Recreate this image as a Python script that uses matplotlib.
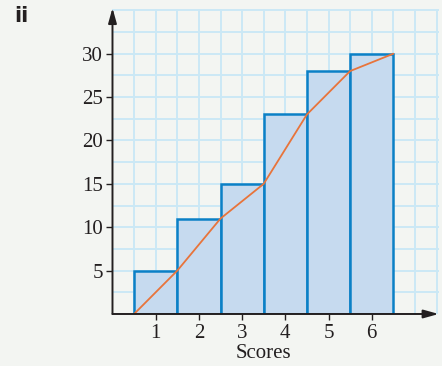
import matplotlib
matplotlib.use("Agg")
import matplotlib.pyplot as plt
import numpy as np

# Cumulative frequency by score
scores = [1, 2, 3, 4, 5, 6]
cum_freq = [5, 11, 15, 23, 28, 30]
y_ticks = [5, 10, 15, 20, 25, 30]
x_label = "Scores"
part_label = "ii"

bg = "#f3f5f2"
grid_col = "#cbe8f6"
bar_fill = "#c6daef"
bar_edge = "#0b80c6"
line_col = "#e8743b"
axis_col = "#231f20"

fig = plt.figure(figsize=(4.42, 3.66), dpi=100, facecolor=bg)
ax = fig.add_axes([0.2545, 0.1421, 0.738, 0.832], facecolor=bg)
x_max = 7.55
ax.set_xlim(0, x_max)
ax.set_ylim(0, 35.1)

# graph-paper grid
for gx in np.arange(0.5, 7.51, 0.5):
    ax.axvline(gx, color=grid_col, lw=1.4, zorder=0)
for gy in np.arange(2.5, 35.01, 2.5):
    ax.axhline(gy, color=grid_col, lw=1.4, zorder=0)

ax.bar(scores, cum_freq, width=1.0, color=bar_fill, edgecolor=bar_edge,
       linewidth=1.8, zorder=2)

# polygon joining the upper class boundaries
px = [scores[0] - 0.5] + [s + 0.5 for s in scores]
py = [0] + cum_freq
ax.plot(px, py, color=line_col, lw=1.3, zorder=3, solid_capstyle="round")

for s in ax.spines.values():
    s.set_visible(False)

# axes with arrow heads
ax.annotate("", xy=(1.0, 0), xycoords="axes fraction", xytext=(0, 0),
            arrowprops=dict(arrowstyle="-|>,head_length=0.9,head_width=0.25",
                            color=axis_col, lw=1.4, shrinkA=0, shrinkB=0),
            zorder=5, annotation_clip=False)
ax.annotate("", xy=(0, 1.005), xycoords="axes fraction", xytext=(0, 0),
            arrowprops=dict(arrowstyle="-|>,head_length=0.9,head_width=0.25",
                            color=axis_col, lw=1.4, shrinkA=0, shrinkB=0),
            zorder=5, annotation_clip=False)

serif = "Liberation Serif"
fs = 15
ax.set_xticks(scores)
ax.set_xticklabels([str(s) for s in scores], fontfamily=serif, fontsize=fs)
ax.set_yticks(y_ticks)
ax.set_yticklabels([str(v) for v in y_ticks], fontfamily=serif, fontsize=fs)
ax.tick_params(direction="out", length=4, width=1, color=axis_col,
               labelcolor=axis_col)
ax.tick_params(axis="x", pad=3)
ax.tick_params(axis="y", pad=3)
# axis title centred under the middle of the bars
ax.set_xlabel(x_label, fontfamily=serif, fontsize=fs, color=axis_col,
              labelpad=1, x=3.5 / x_max)

fig.text(0.033, 0.955, part_label, fontsize=15, fontweight="bold",
         family="DejaVu Sans", color=axis_col, va="center", ha="left")

fig.savefig("out.png", dpi=100, facecolor=bg)
